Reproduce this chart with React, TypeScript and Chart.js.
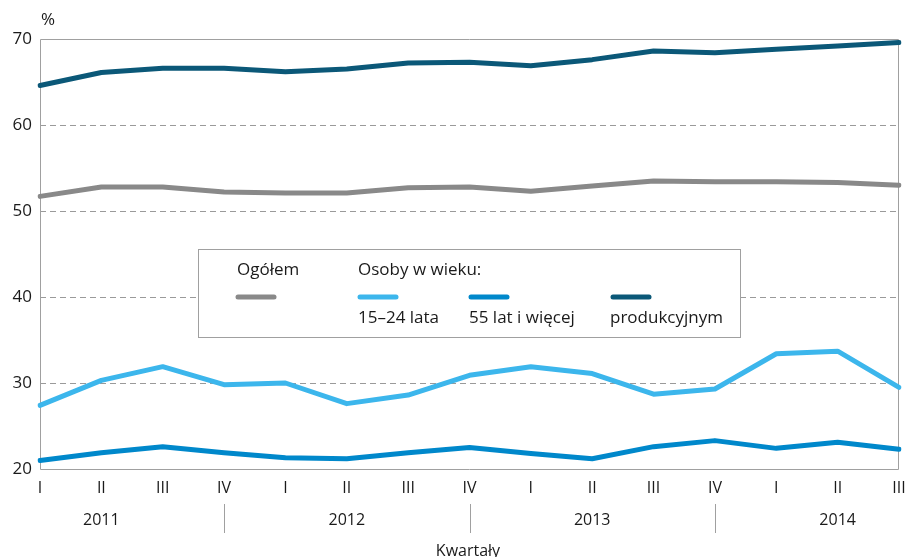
import React, { useEffect, useRef } from "react";
import { Chart, registerables } from "chart.js";

Chart.register(...registerables);

const quarters = ["I", "II", "III", "IV", "I", "II", "III", "IV", "I", "II", "III", "IV", "I", "II", "III"];
const years = ["2011", "2012", "2013", "2014"];
const yearCenters = [1, 5, 9, 13];
const yearSeparators = [3, 7, 11];
const yTicks = [20, 30, 40, 50, 60, 70];

const ogolem = [51.7, 52.8, 52.8, 52.2, 52.1, 52.1, 52.7, 52.8, 52.3, 52.9, 53.5, 53.4, 53.4, 53.3, 53.0];
const wiek1524 = [27.4, 30.3, 31.9, 29.8, 30.0, 27.6, 28.6, 30.9, 31.9, 31.1, 28.7, 29.3, 33.4, 33.7, 29.5];
const wiek55 = [21.0, 21.9, 22.6, 21.9, 21.3, 21.2, 21.9, 22.5, 21.8, 21.2, 22.6, 23.3, 22.4, 23.1, 22.3];
const produkcyjny = [64.6, 66.1, 66.6, 66.6, 66.2, 66.5, 67.2, 67.3, 66.9, 67.6, 68.6, 68.4, 68.8, 69.2, 69.6];

const seriesNames = ["Ogółem", "15–24 lata", "55 lat i więcej", "produkcyjnym"];
const colors = ["#898989", "#3cb6ec", "#0088cb", "#0b5878"];

const FONT = "'Open Sans', 'Noto Sans', sans-serif";
const GRID = "#9a9a9a";
const TEXT = "#1a1a1a";

const framePlugin = {
  id: "frame",
  beforeDatasetsDraw(chart: any) {
    const { ctx, chartArea } = chart;
    const y = chart.scales.y;
    ctx.save();
    ctx.lineWidth = 1;
    ctx.strokeStyle = GRID;
    ctx.setLineDash([6, 4]);
    [30, 40, 50, 60].forEach((v) => {
      const py = Math.round(y.getPixelForValue(v)) + 0.5;
      ctx.beginPath();
      ctx.moveTo(chartArea.left, py);
      ctx.lineTo(chartArea.right, py);
      ctx.stroke();
    });
    ctx.setLineDash([]);
    ctx.strokeStyle = "#a0a0a0";
    const t = Math.round(y.getPixelForValue(70)) + 0.5;
    const b = Math.round(y.getPixelForValue(20)) + 0.5;
    const l = Math.round(chartArea.left) + 0.5;
    const r = Math.round(chartArea.right) - 0.5;
    ctx.beginPath();
    ctx.moveTo(l, t);
    ctx.lineTo(r, t);
    ctx.moveTo(l, t);
    ctx.lineTo(l, b);
    ctx.lineTo(r, b);
    ctx.moveTo(r, t);
    ctx.lineTo(r, b);
    ctx.stroke();
    ctx.restore();
  },
  afterDatasetsDraw(chart: any) {
    const { ctx } = chart;
    const x = chart.scales.x;
    ctx.save();
    // legend box
    const bx = 198, by = 249, bw = 542, bh = 88;
    ctx.fillStyle = "#ffffff";
    ctx.fillRect(bx, by, bw, bh);
    ctx.strokeStyle = "#a0a0a0";
    ctx.lineWidth = 1;
    ctx.strokeRect(bx + 0.5, by + 0.5, bw, bh);
    ctx.fillStyle = TEXT;
    ctx.font = `17px ${FONT}`;
    ctx.textBaseline = "middle";
    ctx.textAlign = "left";
    ctx.fillText(seriesNames[0], 237, 270);
    ctx.fillText("Osoby w wieku:", 358, 270);
    ctx.fillText(seriesNames[1], 358, 318);
    ctx.fillText(seriesNames[2], 469, 318);
    ctx.fillText(seriesNames[3], 610, 318);
    const markers = [236, 358, 469, 611];
    ctx.lineWidth = 5;
    ctx.lineCap = "round";
    markers.forEach((mx, i) => {
      ctx.strokeStyle = colors[i];
      ctx.beginPath();
      ctx.moveTo(mx + 2, 297);
      ctx.lineTo(mx + 38, 297);
      ctx.stroke();
    });
    // year labels and separators
    ctx.lineCap = "butt";
    ctx.lineWidth = 1;
    ctx.strokeStyle = "#a0a0a0";
    yearSeparators.forEach((i) => {
      const px = Math.round(x.getPixelForValue(i)) + 0.5;
      ctx.beginPath();
      ctx.moveTo(px, 504);
      ctx.lineTo(px, 533);
      ctx.stroke();
    });
    ctx.fillStyle = TEXT;
    ctx.textAlign = "center";
    ctx.font = `16px ${FONT}`;
    years.forEach((yr, i) => {
      ctx.fillText(yr, x.getPixelForValue(yearCenters[i]), 520);
    });
    ctx.fillText("Kwartały", 468, 551);
    ctx.font = `17px ${FONT}`;
    ctx.textAlign = "left";
    ctx.fillText("%", 41, 20);
    ctx.restore();
  },
};

export default function App() {
  const ref = useRef<HTMLCanvasElement>(null);
  useEffect(() => {
    document.body.style.margin = "0";
    const canvas = ref.current!;
    const data = [ogolem, wiek1524, wiek55, produkcyjny];
    const chart = new Chart(canvas, {
      type: "line",
      data: {
        labels: quarters,
        datasets: data.map((d, i) => ({
          label: seriesNames[i],
          data: d,
          borderColor: colors[i],
          backgroundColor: colors[i],
          borderWidth: 5,
          pointRadius: 0,
          tension: 0,
          borderCapStyle: "round" as const,
          borderJoinStyle: "round" as const,
        })),
      },
      options: {
        animation: false,
        responsive: false,
        devicePixelRatio: 1,
        layout: { padding: { top: 39, right: 7, left: 0, bottom: 0 } },
        plugins: { legend: { display: false }, tooltip: { enabled: false } },
        scales: {
          x: {
            offset: false,
            grid: { display: false, drawTicks: false },
            border: { display: false },
            ticks: {
              autoSkip: false,
              maxRotation: 0,
              padding: 10,
              color: TEXT,
              font: { family: FONT, size: 16 },
            },
            afterFit: (s: any) => {
              s.height = 88;
              s.paddingLeft = 0;
              s.paddingRight = 0;
            },
          },
          y: {
            min: 20,
            max: 70,
            afterBuildTicks: (s: any) => {
              s.ticks = yTicks.map((v) => ({ value: v }));
            },
            grid: { display: false, drawTicks: false },
            border: { display: false },
            ticks: {
              padding: 8,
              color: TEXT,
              font: { family: FONT, size: 17 },
            },
            afterFit: (s: any) => {
              s.width = 40;
            },
          },
        },
      },
      plugins: [framePlugin],
    });
    return () => chart.destroy();
  }, []);
  return (
    <div style={{ width: 906, height: 557 }}>
      <canvas ref={ref} width={906} height={557} style={{ width: 906, height: 557, display: "block" }} />
    </div>
  );
}
